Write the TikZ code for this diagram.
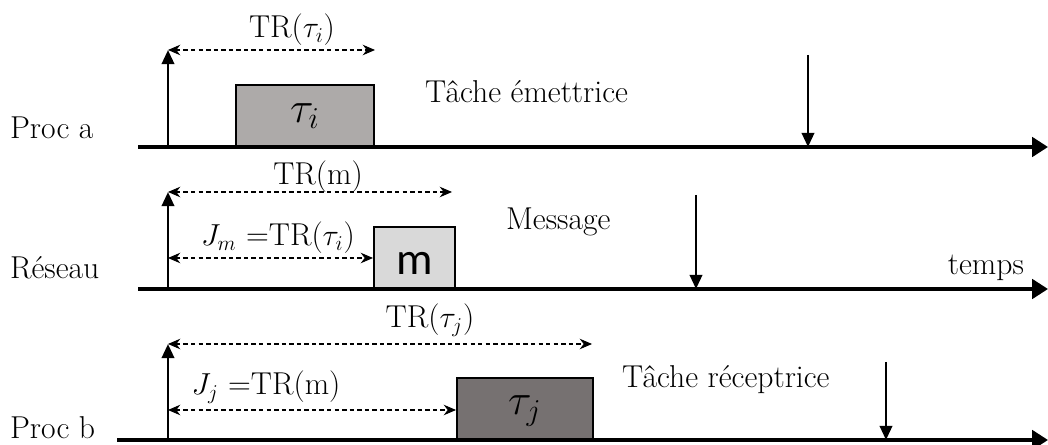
\documentclass[tikz,border=0pt]{standalone}
\usepackage{amsmath}
\usepackage{fontspec}
\newfontfamily\boxfont{Carlito}
\usetikzlibrary{arrows.meta,positioning}

\begin{document}
\begin{tikzpicture}[x=0.02cm,y=-0.02cm,
    txt/.style={font=\fontsize{18}{21}\selectfont, inner sep=1pt},
    axe/.style={line width=2pt,-{Triangle[length=9pt,width=11pt]}},
    event/.style={line width=1.5pt,-{Triangle[length=8pt,width=7pt]}},
    duree/.style={line width=0.6pt,dash pattern=on 2.5pt off 1.8pt,{Stealth[length=7pt,width=6pt]}-{Stealth[length=7pt,width=6pt]}},
    tache/.style={draw,line width=1pt,anchor=south west,inner sep=0pt,minimum height=1.22cm}]
    \useasboundingbox (0,0) rectangle (1048,445);

    % Proc a
    \coordinate (a0) at (138,147);
    \coordinate (a1) at (1048,147);
    \draw[axe] (a0) -- (a1);
    \node[txt, anchor=west] (pa) at (8,128) {Proc a};
    \coordinate (ra) at (168,147);
    \coordinate (rah) at (168,50);
    \draw[event] (ra) -- (rah);
    \node[tache, fill={rgb,255:red,173;green,170;blue,169}, minimum width=2.76cm,
          font=\fontsize{23}{25}\selectfont] (ti) at (235,147) {\raisebox{-3.7pt}[0pt][0pt]{$\tau_i$}};
    \coordinate (tre) at (375,50);
    \draw[duree] (rah) -- (tre);
    \node[txt] (trti) at (292,30) {TR($\tau_i$)};
    \node[txt, anchor=west] (em) at (423,92) {Tâche émettrice};
    \coordinate (da0) at (808,55);
    \coordinate (da1) at (808,147);
    \draw[event] (da0) -- (da1);

    % Reseau
    \coordinate (r0) at (138,289);
    \coordinate (r1) at (1048,289);
    \draw[axe] (r0) -- (r1);
    \node[txt, anchor=west] (res) at (8,268) {Réseau};
    \node[txt, anchor=east] (tps) at (1026,268) {temps};
    \coordinate (rr) at (168,289);
    \coordinate (rrh) at (168,192);
    \draw[event] (rr) -- (rrh);
    \node[tache, fill={rgb,255:red,217;green,217;blue,217}, minimum width=1.62cm,
          font=\boxfont\fontsize{26}{28}\selectfont] (m) at (373,289) {\raisebox{-9.4pt}[0pt][0pt]{m}};
    \coordinate (trme) at (452,192);
    \draw[duree] (rrh) -- (trme);
    \node[txt] (trm) at (318,177) {TR(m)};
    \coordinate (jm0) at (168,258);
    \draw[duree] (jm0) -- (m.west |- jm0);
    \node[txt] (jm) at (278,238) {$J_m$ =TR($\tau_i$)};
    \node[txt, anchor=west] (msg) at (504,222) {Message};
    \coordinate (dr0) at (696,195);
    \coordinate (dr1) at (696,289);
    \draw[event] (dr0) -- (dr1);

    % Proc b
    \coordinate (b0) at (117,440);
    \coordinate (b1) at (1048,440);
    \draw[axe] (b0) -- (b1);
    \node[txt, anchor=west] (pb) at (8,428) {Proc b};
    \coordinate (rb) at (168,440);
    \coordinate (rbh) at (168,344);
    \draw[event] (rb) -- (rbh);
    \node[tache, fill={rgb,255:red,118;green,113;blue,113}, minimum width=2.72cm,
          font=\fontsize{23}{25}\selectfont] (tj) at (456,440) {\raisebox{-3.2pt}[0pt][0pt]{$\tau_j$}};
    \coordinate (trje) at (592,344);
    \draw[duree] (rbh) -- (trje);
    \node[txt] (trtj) at (430,320) {TR($\tau_j$)};
    \coordinate (jj0) at (168,410);
    \draw[duree] (jj0) -- (tj.west |- jj0);
    \node[txt] (jj) at (266,387) {$J_j$ =TR(m)};
    \node[txt, anchor=west] (rec) at (620,380) {Tâche réceptrice};
    \coordinate (db0) at (886,362);
    \coordinate (db1) at (886,440);
    \draw[event] (db0) -- (db1);
\end{tikzpicture}
\end{document}
